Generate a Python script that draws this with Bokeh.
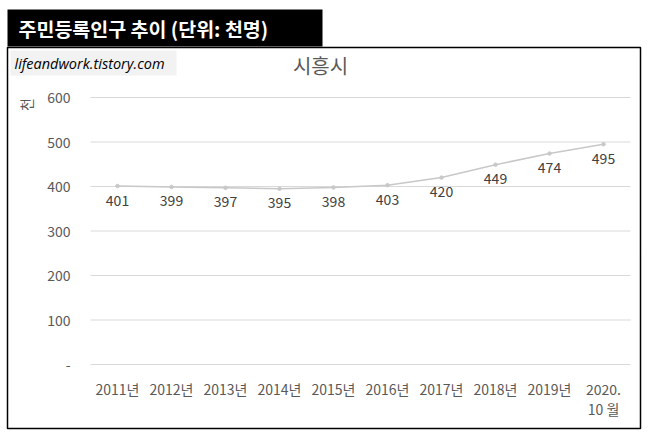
import math
from bokeh.plotting import figure
from bokeh.models import Range1d, Label, BoxAnnotation, ColumnDataSource
from bokeh.core.properties import value
from bokeh.embed import file_html
from bokeh.resources import INLINE

KR = "Noto Sans CJK KR"

years = ["2011년", "2012년", "2013년", "2014년", "2015년", "2016년",
         "2017년", "2018년", "2019년", "2020.\n10 월"]
population = [401, 399, 397, 395, 398, 403, 420, 449, 474, 495]
y_ticks = [0, 100, 200, 300, 400, 500, 600]
y_tick_labels = ["-", "100", "200", "300", "400", "500", "600"]

W, H = 644, 432
# plot area in page pixels; the bokeh frame covers the whole canvas,
# since annotations get clipped to the frame
PL, PR, PT, PB = 90, 630, 97, 364
n = len(years)
xpx = (PR - PL) / n              # px per category
ypx = (PB - PT) / 600            # px per person-thousand
x_range = Range1d(-0.5 - PL / xpx, n - 0.5 + (W - PR) / xpx)
y_range = Range1d(-(H - PB) / ypx, 600 + PT / ypx)

p = figure(width=W, height=H, output_backend="svg", toolbar_location=None,
           x_range=x_range, y_range=y_range,
           x_axis_location=None, y_axis_location=None,
           min_border=0)
p.outline_line_color = None
p.background_fill_color = "white"
p.border_fill_color = "white"
p.xgrid.visible = False
p.ygrid.visible = False


def box(left, top, right, bottom, **kw):
    # page pixels -> screen units (origin at bottom-left of the frame)
    return BoxAnnotation(left=left, right=right, top=H - top, bottom=H - bottom,
                         left_units="screen", right_units="screen",
                         top_units="screen", bottom_units="screen", **kw)


def label(px, py, text, **kw):
    return Label(x=px, y=H - py, x_units="screen", y_units="screen", text=text, **kw)


# outer chart border
p.add_layout(box(7, 47, 640, 428, fill_alpha=0, line_color="black",
                 line_alpha=1, line_width=1.5))

# value gridlines and value-axis labels
grid = ColumnDataSource(dict(y=y_ticks, t=y_tick_labels,
                             x0=[-0.5] * len(y_ticks), x1=[n - 0.5] * len(y_ticks)))
p.segment(x0="x0", y0="y", x1="x1", y1="y", source=grid,
          line_color="#d9d9d9", line_width=1)
p.text(x="x0", y="y", text="t", source=grid, x_offset=-20,
       text_font=value(KR), text_font_size="14px", text_color="#595959",
       text_align="right", text_baseline="middle")

# category labels
cats = ColumnDataSource(dict(x=list(range(n)), y=[0] * n, t=years))
p.text(x="x", y="y", text="t", source=cats, y_offset=14,
       text_font=value(KR), text_font_size="14px", text_color="#595959",
       text_align="center", text_baseline="top", text_line_height=1.0)

# series
src = ColumnDataSource(dict(x=list(range(n)), y=population,
                            t=[str(v) for v in population]))
p.line("x", "y", source=src, line_color="#c8c8c8", line_width=1.5)
p.scatter("x", "y", source=src, size=3.5, fill_color="#c8c8c8", line_color="#c8c8c8")
p.text("x", "y", text="t", source=src, text_font=value(KR), text_font_size="14px",
       text_color="#404040", text_align="center", text_baseline="middle", y_offset=14)

# black title bar
p.add_layout(box(7, 9, 322, 46, fill_color="black", fill_alpha=1,
                 line_color=None))
p.add_layout(label(18, 28, "주민등록인구 추이 (단위: 천명)", text_font=KR,
                   text_font_size="19.5px", text_font_style="bold",
                   text_color="white", text_baseline="middle"))
# source tag
p.add_layout(box(10, 50, 176, 75, fill_color="#f2f2f2", fill_alpha=1, line_color=None))
p.add_layout(label(14, 62.5, "lifeandwork.tistory.com", text_font="Open Sans",
                   text_font_style="italic", text_font_size="14.5px",
                   text_color="black", text_baseline="middle"))
# chart title and unit
p.add_layout(label(320, 65, "시흥시", text_font=KR, text_font_size="20px",
                   text_color="#595959", text_align="center", text_baseline="middle"))
p.add_layout(label(25, 104, "천", text_font=KR, text_font_size="14px", angle=math.pi / 2,
                   text_color="#595959", text_align="center", text_baseline="middle"))

open("out.html", "w").write(file_html(p, INLINE))
